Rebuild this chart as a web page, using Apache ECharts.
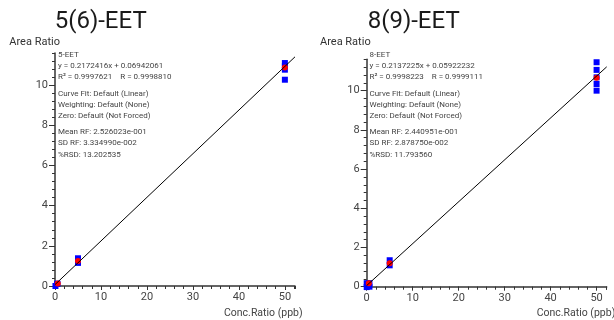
<!DOCTYPE html>
<html><head><meta charset="utf-8">
<script src="https://cdn.jsdelivr.net/npm/echarts@6/dist/echarts.min.js"></script>
<style>html,body{margin:0;padding:0;background:#fff}#c{width:614px;height:320px}</style>
</head><body><div id="c"></div>
<script>
// ---- data ----
const titles = ['5(6)-EET', '8(9)-EET'];
const xTickLabels = [0, 10, 20, 30, 40, 50];
const yTickLabels = [0, 2, 4, 6, 8, 10];
const xMax = 52.2;
const yMax = 11.6;
const fitSlope = [0.2172416, 0.2137225];
const fitIntercept = [0.06942061, 0.05922232];

const blue5X = [0.1, 0.5, 0.5, 5, 5, 5, 50, 50, 50, 50];
const blue5Y = [0, 0.1, 0.12, 1.38, 1.27, 1.15, 11.1, 10.95, 10.77, 10.27];
const red5X = [0.6, 5, 50];
const red5Y = [0.13, 1.25, 10.88];

const blue8X = [0, 0, 0.6, 0.6, 5, 5, 50, 50, 50, 50, 50];
const blue8Y = [-0.02, 0.18, 0, 0.18, 1.35, 1.09, 11.45, 11.06, 10.68, 10.34, 10.0];
const red8X = [0.46, 5, 50];
const red8Y = [0.17, 1.19, 10.66];

const notes5 = ['5-EET', 'y = 0.2172416x + 0.06942061', 'R\u00b2 = 0.9997621    R = 0.9998810',
  'Curve Fit: Default (Linear)', 'Weighting: Default (None)', 'Zero: Default (Not Forced)',
  'Mean RF: 2.526023e-001', 'SD RF: 3.334990e-002', '%RSD: 13.202535'];
const notes8 = ['8-EET', 'y = 0.2137225x + 0.05922232', 'R\u00b2 = 0.9998223    R = 0.9999111',
  'Curve Fit: Default (Linear)', 'Weighting: Default (None)', 'Zero: Default (Not Forced)',
  'Mean RF: 2.440951e-001', 'SD RF: 2.878750e-002', '%RSD: 11.793560'];

// ---- layout ----
const FONT = 'Roboto';
const grids = [
  {left: 55, top: 53, width: 240, height: 233},
  {left: 366.7, top: 59.3, width: 240, height: 227.4}
];
const zip = (a, b) => a.map((v, i) => [v, b[i]]);
const isMajorY = v => Math.abs(v / 2 - Math.round(v / 2)) < 1e-6 && v <= 10 + 1e-6;
const isMajorX = v => Math.abs(v / 10 - Math.round(v / 10)) < 1e-6 && v <= 50 + 1e-6;

const xAxis = [], yAxis = [], series = [], graphic = [];
const blues = [zip(blue5X, blue5Y), zip(blue8X, blue8Y)];
const reds = [zip(red5X, red5Y), zip(red8X, red8Y)];
const notes = [notes5, notes8];
const axisColor = '#333';
const labelStyle = {color: '#444', fontFamily: FONT, fontSize: 11};

grids.forEach((g, gi) => {
  xAxis.push({
    type: 'value', gridIndex: gi, min: 0, max: xMax, interval: 2, position: 'bottom',
    axisLine: {show: true, onZero: false, lineStyle: {color: axisColor, width: 1.5}},
    axisTick: {show: true, length: 3, lineStyle: {color: axisColor, width: 1}},
    axisLabel: Object.assign({margin: 6, formatter: v => isMajorX(v) ? String(Math.round(v)) : ''}, labelStyle),
    splitLine: {show: false}
  });
  xAxis.push({
    type: 'value', gridIndex: gi, min: 0, max: xMax, interval: 10, position: 'bottom',
    axisLine: {show: false, onZero: false},
    axisTick: {show: true, length: 4, customValues: xTickLabels, lineStyle: {color: axisColor, width: 1}},
    axisLabel: {show: false}, splitLine: {show: false}
  });
  yAxis.push({
    type: 'value', gridIndex: gi, min: 0, max: yMax, interval: 0.4, position: 'left',
    axisLine: {show: true, onZero: false, lineStyle: {color: axisColor, width: 1.5}},
    axisTick: {show: true, length: 3, lineStyle: {color: axisColor, width: 1}},
    axisLabel: Object.assign({margin: 7, formatter: v => isMajorY(v) ? String(Math.round(v)) : ''}, labelStyle),
    splitLine: {show: false}
  });
  yAxis.push({
    type: 'value', gridIndex: gi, min: 0, max: yMax, interval: 2, position: 'left',
    axisLine: {show: false, onZero: false},
    axisTick: {show: true, length: 6, customValues: yTickLabels, lineStyle: {color: axisColor, width: 1}},
    axisLabel: {show: false}, splitLine: {show: false}
  });
  const xi = gi * 2, yi = gi * 2;
  series.push({
    type: 'scatter', xAxisIndex: xi, yAxisIndex: yi, data: blues[gi], symbol: 'rect', symbolSize: 6,
    itemStyle: {color: '#0000ff', opacity: 1}, clip: false, z: 2, silent: true
  });
  series.push({
    type: 'scatter', xAxisIndex: xi, yAxisIndex: yi, data: reds[gi], symbol: 'circle', symbolSize: 6,
    itemStyle: {color: '#ff0000', opacity: 1}, clip: false, z: 3, silent: true
  });
  series.push({
    type: 'line', xAxisIndex: xi, yAxisIndex: yi, showSymbol: false, symbol: 'none', clip: false, z: 4,
    data: [[0, fitIntercept[gi]], [xMax, fitSlope[gi] * xMax + fitIntercept[gi]]],
    lineStyle: {color: '#000', width: 1}, silent: true
  });
});

// titles
const titleX = [100.7, 413.7];
titles.forEach((t, i) => graphic.push({type: 'text', x: titleX[i], y: 22,
  style: {text: t, fill: '#1a1a1a', font: '24px ' + FONT, align: 'center', verticalAlign: 'middle'}}));
// axis names
const yNameX = [9.3, 320];
yNameX.forEach(x => graphic.push({type: 'text', x: x, y: 42,
  style: {text: 'Area Ratio', fill: '#333', font: '11px ' + FONT, align: 'left', verticalAlign: 'middle'}}));
const xNameX = [224, 536.7];
xNameX.forEach(x => graphic.push({type: 'text', x: x, y: 313.5,
  style: {text: 'Conc.Ratio (ppb)', fill: '#444', font: '10.5px ' + FONT, align: 'left', verticalAlign: 'middle'}}));
// notes
const noteX = [58, 369.5];
const noteY = [55, 66.2, 77.4, 93.5, 104.8, 116.1, 132.3, 143.4, 154.5];
notes.forEach((arr, gi) => arr.forEach((line, li) => graphic.push({type: 'text', x: noteX[gi], y: noteY[li],
  style: {text: line, fill: '#444', font: '8px ' + FONT, align: 'left', verticalAlign: 'middle'}})));

const chart = echarts.init(document.getElementById('c'), null, {renderer: 'canvas'});
chart.setOption({animation: false, backgroundColor: '#fff', grid: grids, xAxis, yAxis, series, graphic});
</script></body></html>
